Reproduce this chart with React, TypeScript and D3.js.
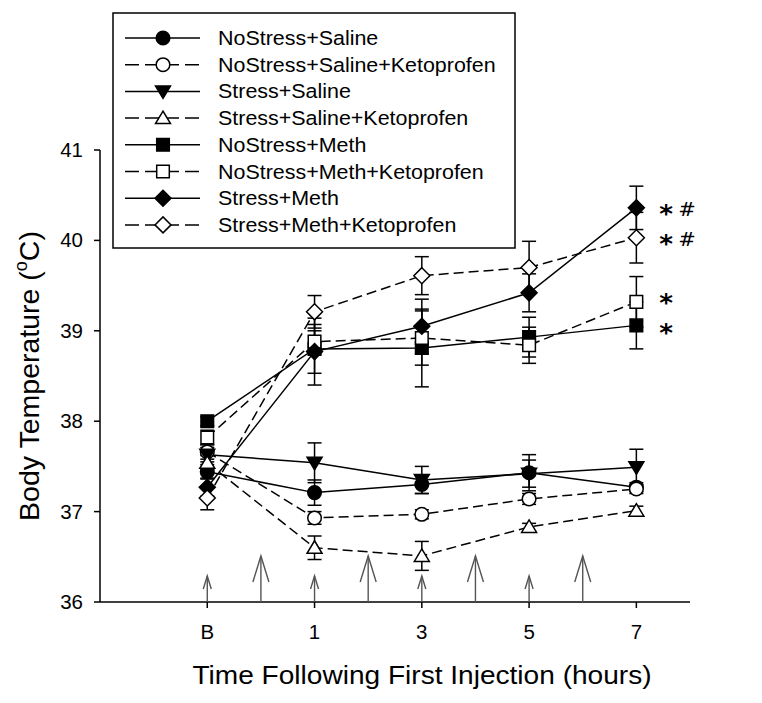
import React from 'react';
import * as d3 from 'd3';

// ---------- data ----------
const timePoints = [-1, 1, 3, 5, 7];
const timeLabels = ['B', '1', '3', '5', '7'];
const yTicks = [36, 37, 38, 39, 40, 41];
const injectionTimes = [0, 2, 4, 6];
const sampleTimes = [-1, 1, 3, 5];

const seriesNames = [
  'NoStress+Saline',
  'NoStress+Saline+Ketoprofen',
  'Stress+Saline',
  'Stress+Saline+Ketoprofen',
  'NoStress+Meth',
  'NoStress+Meth+Ketoprofen',
  'Stress+Meth',
  'Stress+Meth+Ketoprofen',
];

const noStressSaline = [37.44, 37.21, 37.3, 37.43, 37.27];
const noStressSalineErr = [0.08, 0.14, 0.1, 0.2, 0.05];
const noStressSalineKeto = [37.66, 36.93, 36.97, 37.14, 37.25];
const noStressSalineKetoErr = [0.08, 0.07, 0.05, 0.06, 0.05];
const stressSaline = [37.63, 37.54, 37.35, 37.42, 37.49];
const stressSalineErr = [0.08, 0.22, 0.15, 0.15, 0.2];
const stressSalineKeto = [37.54, 36.6, 36.51, 36.83, 37.01];
const stressSalineKetoErr = [0.08, 0.13, 0.16, 0.04, 0.05];
const noStressMeth = [38.0, 38.8, 38.81, 38.93, 39.06];
const noStressMethErr = [0.05, 0.27, 0.43, 0.22, 0.26];
const noStressMethKeto = [37.82, 38.88, 38.92, 38.84, 39.32];
const noStressMethKetoErr = [0.08, 0.12, 0.3, 0.2, 0.28];
const stressMeth = [37.27, 38.77, 39.05, 39.42, 40.36];
const stressMethErr = [0.1, 0.37, 0.3, 0.21, 0.24];
const stressMethKeto = [37.15, 39.21, 39.61, 39.7, 40.03];
const stressMethKetoErr = [0.13, 0.18, 0.21, 0.29, 0.28];

const seriesValues = [
  noStressSaline, noStressSalineKeto, stressSaline, stressSalineKeto,
  noStressMeth, noStressMethKeto, stressMeth, stressMethKeto,
];
const seriesErrors = [
  noStressSalineErr, noStressSalineKetoErr, stressSalineErr, stressSalineKetoErr,
  noStressMethErr, noStressMethKetoErr, stressMethErr, stressMethKetoErr,
];

const annotationSeries = [6, 7, 5, 4];
const annotationLabels = ['* #', '* #', '*', '*'];

// ---------- styles ----------
type Shape = 'circle' | 'triDown' | 'triUp' | 'square' | 'diamond';
const seriesShapes: Shape[] = ['circle', 'circle', 'triDown', 'triUp', 'square', 'square', 'diamond', 'diamond'];
const seriesFilled = [true, false, true, false, true, false, true, false];
const annotationNudge = [0, 0, -5, 2];

const W = 762;
const H = 703;
const FONT = "'Liberation Sans', Arial, sans-serif";

const x = d3.scaleLinear().domain([-3, 8]).range([100, 690]);
const y = d3.scaleLinear().domain([36, 41]).range([602, 150]);

function markerPath(shape: Shape): string {
  switch (shape) {
    case 'circle': {
      const p = d3.path();
      p.arc(0, 0, 6.8, 0, Math.PI * 2);
      p.closePath();
      return p.toString();
    }
    case 'square':
      return 'M-6.3,-6.3L6.3,-6.3L6.3,6.3L-6.3,6.3Z';
    case 'diamond':
      return 'M0,-8L8,0L0,8L-8,0Z';
    case 'triUp':
      return 'M0,-7L7.5,5.5L-7.5,5.5Z';
    case 'triDown':
      return 'M0,7L7.5,-5.5L-7.5,-5.5Z';
  }
}

function Marker({ cx, cy, shape, filled }: { cx: number; cy: number; shape: Shape; filled: boolean }) {
  return (
    <path
      d={markerPath(shape)}
      transform={`translate(${cx},${cy})`}
      fill={filled ? '#000' : '#fff'}
      stroke="#000"
      strokeWidth={1.5}
    />
  );
}

function Txt({ x: tx, y: ty, size, anchor = 'start', sx = 1.1, children, weight = 'normal', family = FONT }: any) {
  return (
    <text
      transform={`translate(${tx},${ty}) scale(${sx},1)`}
      fontSize={size}
      fontFamily={family}
      textAnchor={anchor}
      fontWeight={weight}
      fill="#000"
    >
      {children}
    </text>
  );
}

function Arrow({ ax, len, hw, hl }: { ax: number; len: number; hw: number; hl: number }) {
  const base = y(36);
  const tip = base - len;
  return (
    <g stroke="#555" strokeWidth={1.4} fill="none">
      <line x1={ax} x2={ax} y1={base} y2={tip} />
      <path d={`M${ax - hw},${tip + hl}L${ax},${tip}L${ax + hw},${tip + hl}`} />
    </g>
  );
}

export default function App() {
  const line = d3
    .line<number>()
    .x((_, i) => x(timePoints[i]))
    .y((d) => y(d));

  const capW = 7;

  const legendRowY = (i: number) => 38 + i * 26.7;

  return (
    <svg
      width={W}
      height={H}
      style={{ position: 'absolute', left: 0, top: 0, background: '#fff' }}
    >
      <rect x={0} y={0} width={W} height={H} fill="#fff" />

      {/* axes */}
      <line x1={100} x2={100} y1={y(41)} y2={y(36)} stroke="#000" strokeWidth={1.5} />
      <line x1={100} x2={690} y1={y(36)} y2={y(36)} stroke="#000" strokeWidth={1.5} />
      {yTicks.map((t) => (
        <g key={'yt' + t}>
          <line x1={94} x2={100} y1={y(t)} y2={y(t)} stroke="#000" strokeWidth={1.5} />
          <Txt x={83} y={y(t) + 7} size={19.5} sx={1.05} anchor="end">{String(t)}</Txt>
        </g>
      ))}
      {timePoints.map((t, i) => (
        <g key={'xt' + t}>
          <line x1={x(t)} x2={x(t)} y1={y(36)} y2={y(36) + 6} stroke="#000" strokeWidth={1.5} />
          <Txt x={x(t)} y={639} size={19.5} sx={1.05} anchor="middle">{timeLabels[i]}</Txt>
        </g>
      ))}

      {/* axis titles */}
      <Txt x={422} y={684} size={26} anchor="middle" sx={1.08}>
        Time Following First Injection (hours)
      </Txt>
      <text
        transform={`translate(39,376) rotate(-90)`}
        fontSize={28.5}
        fontFamily={FONT}
        textAnchor="middle"
        fill="#000"
      >
        Body Temperature (<tspan fontSize={18} dy={-12}>o</tspan>
        <tspan dy={12}>C)</tspan>
      </text>

      {/* arrows */}
      {sampleTimes.map((t) => (
        <Arrow key={'sa' + t} ax={x(t)} len={26} hw={4} hl={13} />
      ))}
      {injectionTimes.map((t) => (
        <Arrow key={'ia' + t} ax={x(t)} len={46} hw={8} hl={26} />
      ))}

      {/* lines */}
      {seriesValues.map((vals, s) => (
        <path
          key={'ln' + s}
          d={line(vals) || ''}
          fill="none"
          stroke="#000"
          strokeWidth={1.5}
          strokeDasharray={seriesFilled[s] ? undefined : '10,5'}
        />
      ))}

      {/* error bars */}
      {seriesValues.map((vals, s) =>
        vals.map((v, i) => {
          const e = seriesErrors[s][i];
          const cx = x(timePoints[i]);
          const y1 = y(v + e);
          const y2 = y(v - e);
          return (
            <g key={`eb${s}-${i}`} stroke="#000" strokeWidth={1.5}>
              <line x1={cx} x2={cx} y1={y1} y2={y2} />
              <line x1={cx - capW} x2={cx + capW} y1={y1} y2={y1} />
              <line x1={cx - capW} x2={cx + capW} y1={y2} y2={y2} />
            </g>
          );
        })
      )}

      {/* markers */}
      {seriesValues.map((vals, s) =>
        vals.map((v, i) => (
          <Marker
            key={`mk${s}-${i}`}
            cx={x(timePoints[i])}
            cy={y(v)}
            shape={seriesShapes[s]}
            filled={seriesFilled[s]}
          />
        ))
      )}

      {/* significance annotations */}
      {annotationSeries.map((s, k) => {
        const vals = seriesValues[s];
        const v = vals[vals.length - 1];
        const cy = y(v) + annotationNudge[k];
        return (
          <Txt
            key={'an' + k}
            x={x(7) + 23}
            y={cy + 14}
            size={25}
            sx={1.05}
            weight="bold"
            family="'DejaVu Sans', sans-serif"
          >
            {annotationLabels[k].split(' ').map((part, j) => (
              <tspan
                key={j}
                fontSize={part === '#' ? 20 : 25}
                fontWeight={part === '#' ? 'normal' : 'bold'}
                dx={j > 0 ? 5 : 0}
                dy={j > 0 ? -6 : 0}
              >
                {part}
              </tspan>
            ))}
          </Txt>
        );
      })}

      {/* legend */}
      <rect x={113} y={13} width={402} height={235} fill="#fff" stroke="#000" strokeWidth={1.5} />
      {seriesNames.map((name, i) => {
        const ly = legendRowY(i);
        return (
          <g key={'lg' + i}>
            <line
              x1={125}
              x2={200}
              y1={ly}
              y2={ly}
              stroke="#000"
              strokeWidth={1.5}
              strokeDasharray={seriesFilled[i] ? undefined : '14,6'}
            />
            <Marker cx={163} cy={ly} shape={seriesShapes[i]} filled={seriesFilled[i]} />
            <Txt x={218} y={ly + 7} size={19.5} sx={1.1}>{name}</Txt>
          </g>
        );
      })}
    </svg>
  );
}
